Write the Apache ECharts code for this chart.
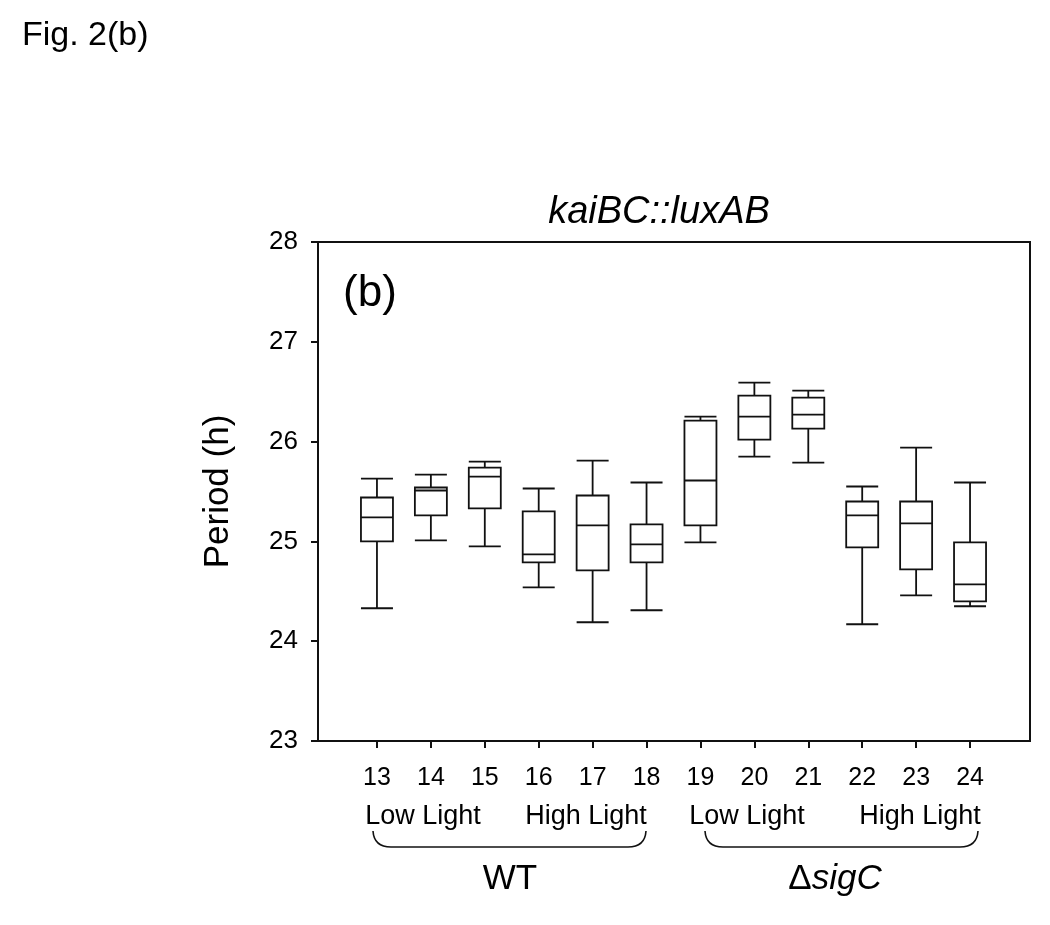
<!DOCTYPE html>
<html>
<head>
<meta charset="utf-8">
<script src="https://cdn.jsdelivr.net/npm/echarts@6/dist/echarts.min.js"></script>
<style>html,body{margin:0;padding:0;background:#fff}#c{width:1050px;height:925px}</style>
</head>
<body>
<div id="c"></div>
<script>
// Categories (sample numbers)
const categories = ['13','14','15','16','17','18','19','20','21','22','23','24'];
// Box statistics: [min, Q1, median, Q3, max] (Period, h)
const boxMin    = [24.33, 25.01, 24.95, 24.54, 24.19, 24.31, 24.99, 25.85, 25.79, 24.17, 24.46, 24.35];
const boxQ1     = [25.00, 25.26, 25.33, 24.79, 24.71, 24.79, 25.16, 26.02, 26.13, 24.94, 24.72, 24.40];
const boxMedian = [25.24, 25.51, 25.65, 24.87, 25.16, 24.97, 25.61, 26.25, 26.27, 25.26, 25.18, 24.57];
const boxQ3     = [25.44, 25.54, 25.74, 25.30, 25.46, 25.17, 26.21, 26.46, 26.44, 25.40, 25.40, 24.99];
const boxMax    = [25.63, 25.67, 25.80, 25.53, 25.81, 25.59, 26.25, 26.59, 26.51, 25.55, 25.94, 25.59];
const yTicks = [23, 24, 25, 26, 27, 28];

const FONT = "'Liberation Sans', Arial, Helvetica, sans-serif";
const boxData = categories.map((c, i) => [boxMin[i], boxQ1[i], boxMedian[i], boxQ3[i], boxMax[i]]);

function brace(x0, x1, yTop, yBot) {
  const r = 18;
  const ls = {stroke: '#111', lineWidth: 1.6, fill: null};
  return [
    {type: 'bezierCurve', shape: {x1: x0, y1: yTop, cpx1: x0 + 1, cpy1: yBot, x2: x0 + r, y2: yBot}, style: ls},
    {type: 'line', shape: {x1: x0 + r, y1: yBot, x2: x1 - r, y2: yBot}, style: ls},
    {type: 'bezierCurve', shape: {x1: x1 - r, y1: yBot, cpx1: x1 - 1, cpy1: yBot, x2: x1, y2: yTop}, style: ls}
  ];
}

const chart = echarts.init(document.getElementById('c'), null, {renderer: 'canvas'});
const option = {
  animation: false,
  backgroundColor: '#fff',
  grid: [
    {left: 318, right: 20, top: 242, bottom: 184, show: true, borderColor: '#111', borderWidth: 2, backgroundColor: 'transparent'},
    {left: 350, right: 53, top: 242, bottom: 184}
  ],
  xAxis: [
    {gridIndex: 0, type: 'value', min: 0, max: 1, show: false},
    {gridIndex: 1, type: 'category', data: categories, boundaryGap: true,
      axisLine: {show: false},
      axisTick: {show: true, alignWithLabel: true, length: 7, lineStyle: {color: '#111', width: 2}},
      axisLabel: {color: '#000', fontSize: 25, fontFamily: FONT, margin: 25},
      splitLine: {show: false}}
  ],
  yAxis: [
    {gridIndex: 0, type: 'value', min: yTicks[0], max: yTicks[yTicks.length - 1], interval: 1,
      axisLine: {show: true, lineStyle: {color: '#111', width: 2}},
      axisTick: {show: true, length: 7, lineStyle: {color: '#111', width: 2}},
      axisLabel: {color: '#000', fontSize: 26, fontFamily: FONT, margin: 20},
      splitLine: {show: false},
      name: 'Period (h)', nameLocation: 'middle', nameGap: 82,
      nameTextStyle: {color: '#000', fontSize: 35, fontFamily: FONT}},
    {gridIndex: 1, type: 'value', min: yTicks[0], max: yTicks[yTicks.length - 1], show: false}
  ],
  title: [
    {text: 'Fig. 2(b)', left: 17, top: 14, textStyle: {fontSize: 34, fontWeight: 'normal', color: '#000', fontFamily: FONT}},
    {text: 'kaiBC::luxAB', left: 654, top: 188, textAlign: 'center',
      textStyle: {fontSize: 38, fontStyle: 'italic', fontWeight: 'normal', color: '#000', fontFamily: FONT}}
  ],
  series: [{
    type: 'boxplot',
    xAxisIndex: 1, yAxisIndex: 1,
    data: boxData,
    boxWidth: [32, 32],
    itemStyle: {color: '#fff', borderColor: '#111', borderWidth: 1.8},
    emphasis: {disabled: true}
  }],
  graphic: [
    {type: 'text', x: 370, y: 294, style: {text: '(b)', fontSize: 44, fontFamily: FONT, fill: '#000', align: 'center', verticalAlign: 'middle'}},
    {type: 'text', x: 423, y: 817, style: {text: 'Low Light', fontSize: 27, fontFamily: FONT, fill: '#000', align: 'center', verticalAlign: 'middle'}},
    {type: 'text', x: 586, y: 817, style: {text: 'High Light', fontSize: 27, fontFamily: FONT, fill: '#000', align: 'center', verticalAlign: 'middle'}},
    {type: 'text', x: 747, y: 817, style: {text: 'Low Light', fontSize: 27, fontFamily: FONT, fill: '#000', align: 'center', verticalAlign: 'middle'}},
    {type: 'text', x: 920, y: 817, style: {text: 'High Light', fontSize: 27, fontFamily: FONT, fill: '#000', align: 'center', verticalAlign: 'middle'}}
  ].concat(brace(373, 646, 831, 847), brace(705, 978, 831, 847), [
    {type: 'text', x: 510, y: 879, style: {text: 'WT', fontSize: 35, fontFamily: FONT, fill: '#000', align: 'center', verticalAlign: 'middle'}},
    {type: 'text', x: 835, y: 879, style: {text: '{a|Δ}{b|sigC}', fontSize: 35, fontFamily: FONT, fill: '#000', align: 'center', verticalAlign: 'middle',
      rich: {a: {fontSize: 35, fontFamily: FONT, fill: '#000'}, b: {fontSize: 35, fontFamily: FONT, fontStyle: 'italic', fill: '#000'}}}}
  ])
};
chart.setOption(option);
</script>
</body>
</html>
